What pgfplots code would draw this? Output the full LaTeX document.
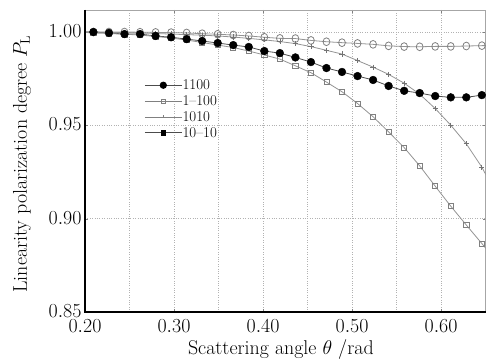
\RequirePackage{fix-cm}
\documentclass[border=0pt]{standalone}
\usepackage{fontspec}
\usepackage{pgfplots}
\usepackage{pgfplotstable}
\pgfplotsset{compat=1.18}

\pgfplotstableread{
t a b c d
0.19199 1.0000 1.0000 1.0000 1.0000
0.20944 1.0000 0.9995 1.0000 1.0000
0.22689 0.9995 0.9992 0.9998 1.0000
0.24435 0.9989 0.9988 0.9997 1.0000
0.26180 0.9989 0.9984 0.9995 0.9999
0.27925 0.9979 0.9976 0.9992 0.9998
0.29671 0.9972 0.9968 0.9989 0.9997
0.31416 0.9962 0.9957 0.9986 0.9995
0.33161 0.9952 0.9944 0.9983 0.9991
0.34907 0.9941 0.9930 0.9979 0.9988
0.36652 0.9930 0.9917 0.9973 0.9984
0.38397 0.9920 0.9898 0.9966 0.9979
0.40143 0.9898 0.9877 0.9958 0.9972
0.41888 0.9887 0.9855 0.9949 0.9966
0.43633 0.9864 0.9819 0.9938 0.9965
0.45379 0.9839 0.9782 0.9922 0.9955
0.47124 0.9807 0.9732 0.9902 0.9948
0.48869 0.9786 0.9680 0.9882 0.9943
0.50615 0.9764 0.9617 0.9847 0.9939
0.52360 0.9743 0.9546 0.9812 0.9934
0.54105 0.9711 0.9465 0.9773 0.9926
0.55851 0.9685 0.9381 0.9726 0.9922
0.57596 0.9673 0.9283 0.9667 0.9921
0.59341 0.9657 0.9174 0.9590 0.9923
0.61087 0.9650 0.9067 0.9501 0.9923
0.62832 0.9650 0.8966 0.9401 0.9925
0.64577 0.9662 0.8867 0.9276 0.9927
0.66323 0.9675 0.8767 0.9120 0.9928
}\data

\begin{document}
\begin{tikzpicture}
\begin{axis}[
  scale only axis, width=400.6bp, height=302bp,
  xmin=0.2, xmax=0.65, ymin=0.85, ymax=1.0118,
  xtick={0.2,0.3,0.4,0.5,0.6}, minor xtick={0.25,0.35,0.45,0.55},
  ytick={0.85,0.90,0.95,1.00},
  xticklabel style={/pgf/number format/fixed, /pgf/number format/fixed zerofill, /pgf/number format/precision=2, yshift=-4bp},
  yticklabel style={/pgf/number format/fixed, /pgf/number format/fixed zerofill, /pgf/number format/precision=2, yshift=1bp},
  grid=both,
  major grid style={gray!60, dotted, line width=0.6pt},
  minor grid style={gray!60, dotted, line width=0.6pt},
  tick align=inside, major tick length=3bp, minor tick length=0pt,
  tick style={gray},
  axis line style={gray!70, line width=0.9pt},
  tick label style={font=\fontsize{20}{22}\selectfont},
  label style={font=\fontsize{20}{22}\selectfont},
  xlabel={Scattering angle $\theta$ /rad},
  ylabel={Linearity polarization degree $P_{\mathrm{L}}$},
  xlabel style={at={(axis description cs:0.489,-0.142)}, anchor=base},
  ylabel style={at={(axis description cs:-0.157,0.49)}, anchor=center},
  legend style={at={(rel axis cs:0.148,0.772)}, anchor=north west, draw=none, fill=none,
    font=\fontsize{15}{16}\selectfont, inner sep=0pt, row sep=3.5bp,
    nodes={inner sep=0.5bp}, cells={anchor=west}},
  legend image code/.code={\draw[mark repeat=2,mark phase=2] plot coordinates {(0cm,0cm) (0.65cm,0cm) (1.3cm,0cm)};},
  after end axis/.code={\draw[black, line width=1.2pt] (rel axis cs:0,1) -- (rel axis cs:0,0) -- (rel axis cs:1,0);},
]
% lines
\addplot[forget plot, black!70, line width=0.8pt] table[x=t,y=a] {\data};
\addplot[forget plot, gray!85, line width=0.8pt] table[x=t,y=b] {\data};
\addplot[forget plot, gray!85, line width=0.8pt] table[x=t,y=c] {\data};
\addplot[forget plot, gray!85, line width=0.8pt] table[x=t,y=d] {\data};
% marks
\addplot[forget plot, only marks, restrict x to domain=0.2:0.65, mark=o, mark size=3.4bp, gray, mark options={line width=0.8pt, yscale=1.15}] table[x=t,y=d] {\data};
\addplot[forget plot, only marks, restrict x to domain=0.2:0.65, mark=+, mark size=2.6bp, gray!90!black, mark options={line width=0.7pt}] table[x=t,y=c] {\data};
\addplot[forget plot, only marks, restrict x to domain=0.2:0.65, mark=square, mark size=2.6bp, gray, mark options={line width=0.7pt}] table[x=t,y=b] {\data};
\addplot[forget plot, only marks, restrict x to domain=0.2:0.65, mark=*, mark size=3.9bp, black] table[x=t,y=a] {\data};
% legend
\addlegendimage{black!70, line width=0.8pt, mark=*, mark size=3.2bp, mark options={black}}
\addlegendentry{1100}
\addlegendimage{gray, line width=0.8pt, mark=square, mark size=1.8bp}
\addlegendentry{1--100}
\addlegendimage{gray, line width=0.8pt, mark=+, mark size=1.5bp}
\addlegendentry{1010}
\addlegendimage{black!70, line width=0.8pt, mark=square*, mark size=2.2bp, mark options={black}}
\addlegendentry{10--10}
\end{axis}
\pgfresetboundingbox
\path[use as bounding box] (-85bp,-47bp) rectangle (412bp,312bp);
\end{tikzpicture}
\end{document}
